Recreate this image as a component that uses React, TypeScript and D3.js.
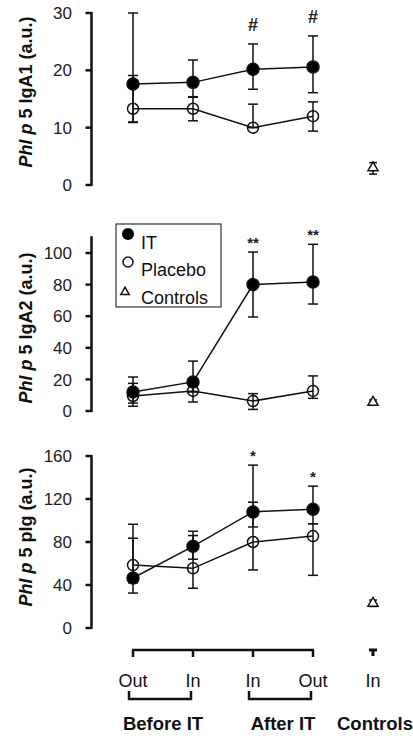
import React, { useEffect, useRef } from "react";
import * as d3 from "d3";

// x slots: four IT/placebo time points + controls
const slots = ["beforeOut", "beforeIn", "afterIn", "afterOut", "controls"];
const slotLabels = ["Out", "In", "In", "Out", "In"];
const groupLabels = ["Before IT", "After IT", "Controls"];
const legendLabels = ["IT", "Placebo", "Controls"];

// Phl p 5 IgA1
const iga1Ticks = [0, 10, 20, 30];
const iga1It = [17.6, 17.9, 20.2, 20.6];
const iga1ItHi = [30, 21.8, 24.6, 26];
const iga1ItLo = [11, 15.3, 16.7, 16.1];
const iga1Pl = [13.3, 13.3, 10, 12];
const iga1PlHi = [19.1, 15.4, 14.1, 14.5];
const iga1PlLo = [10.9, 11.2, 10, 9.4];
const iga1Ctrl = [3.0, 3.9, 1.9]; // mean, hi, lo
const iga1Marks = ["", "", "#", "#"];

// Phl p 5 IgA2
const iga2Ticks = [0, 20, 40, 60, 80, 100];
const iga2It = [12, 18.4, 80, 81.7];
const iga2ItHi = [21.5, 31.6, 100.6, 105.5];
const iga2ItLo = [5, 12, 59.5, 67.7];
const iga2Pl = [9.5, 12.7, 6.3, 12.7];
const iga2PlHi = [17.5, 18, 11, 22.2];
const iga2PlLo = [3, 5.7, 1, 8];
const iga2Ctrl = [5.5, 7, 4];
const iga2Marks = ["", "", "**", "**"];

// Phl p 5 pIg
const pigTicks = [0, 40, 80, 120, 160];
const pigIt = [46.5, 76, 108, 110.5];
const pigItHi = [83.5, 90, 151.5, 132];
const pigItLo = [32.5, 64, 94, 97];
const pigPl = [58.5, 55.5, 80, 85.5];
const pigPlHi = [96.5, 86, 117, 97];
const pigPlLo = [42, 37, 54, 49];
const pigCtrl = [23, 26, 20];
const pigMarks = ["", "", "*", "*"];

const FONT = "'Liberation Sans', Arial, Helvetica, sans-serif";

export default function App() {
  const svgRef = useRef<SVGSVGElement>(null);

  useEffect(() => {
    const svg = d3.select(svgRef.current);
    svg.selectAll("*").remove();

    const x = d3.scalePoint<string>().domain(slots).range([133, 373]);
    const axisX = 91.5;

    const panels = [
      { name: " 5 IgA1 (a.u.)", ticks: iga1Ticks, top: 30, range: [185, 13], labelY: 92,
        it: iga1It, itHi: iga1ItHi, itLo: iga1ItLo, pl: iga1Pl, plHi: iga1PlHi, plLo: iga1PlLo,
        ctrl: iga1Ctrl, marks: iga1Marks },
      { name: " 5 IgA2 (a.u.)", ticks: iga2Ticks, top: 110, range: [411, 253], labelY: 328,
        it: iga2It, itHi: iga2ItHi, itLo: iga2ItLo, pl: iga2Pl, plHi: iga2PlHi, plLo: iga2PlLo,
        ctrl: iga2Ctrl, marks: iga2Marks },
      { name: " 5 pIg (a.u.)", ticks: pigTicks, top: 160, range: [628, 456], labelY: 537,
        it: pigIt, itHi: pigItHi, itLo: pigItLo, pl: pigPl, plHi: pigPlHi, plLo: pigPlLo,
        ctrl: pigCtrl, marks: pigMarks },
    ];

    panels.forEach((p) => {
      const maxTick = p.ticks[p.ticks.length - 1];
      const y = d3.scaleLinear().domain([0, maxTick]).range(p.range);
      const g = svg.append("g");

      // y axis
      g.append("line")
        .attr("x1", axisX).attr("x2", axisX)
        .attr("y1", y(0) + 1).attr("y2", y(p.top) - 1)
        .attr("stroke", "#111").attr("stroke-width", 2.5);
      p.ticks.forEach((t) => {
        g.append("line")
          .attr("x1", axisX - 6).attr("x2", axisX)
          .attr("y1", y(t)).attr("y2", y(t))
          .attr("stroke", "#111").attr("stroke-width", 2.5);
        g.append("text")
          .attr("x", 72).attr("y", y(t))
          .attr("dy", "0.36em")
          .attr("text-anchor", "end")
          .attr("font-size", 17)
          .attr("fill", "#222")
          .text(t);
      });

      // y label
      const lab = g.append("text")
        .attr("transform", `translate(32,${p.labelY}) rotate(-90)`)
        .attr("text-anchor", "middle")
        .attr("font-size", 18)
        .attr("font-weight", "bold")
        .attr("fill", "#111");
      lab.append("tspan").attr("font-style", "italic").text("Phl p");
      lab.append("tspan").text(p.name);

      const series = [
        { v: p.pl, hi: p.plHi, lo: p.plLo, filled: false },
        { v: p.it, hi: p.itHi, lo: p.itLo, filled: true },
      ];

      // error bars
      series.forEach((s) => {
        s.v.forEach((_, i) => {
          const cx = x(slots[i]) as number;
          g.append("line")
            .attr("x1", cx).attr("x2", cx)
            .attr("y1", y(s.hi[i])).attr("y2", y(s.lo[i]))
            .attr("stroke", "#111").attr("stroke-width", 1.5);
          [s.hi[i], s.lo[i]].forEach((c) => {
            g.append("line")
              .attr("x1", cx - 5).attr("x2", cx + 5)
              .attr("y1", y(c)).attr("y2", y(c))
              .attr("stroke", "#111").attr("stroke-width", 1.5);
          });
        });
      });

      // lines
      const line = d3.line<number>()
        .x((_, i) => x(slots[i]) as number)
        .y((d) => y(d));
      series.forEach((s) => {
        g.append("path")
          .attr("d", line(s.v))
          .attr("fill", "none")
          .attr("stroke", "#111")
          .attr("stroke-width", 1.5);
      });

      // markers
      series.forEach((s) => {
        s.v.forEach((d, i) => {
          g.append("circle")
            .attr("cx", x(slots[i]) as number)
            .attr("cy", y(d))
            .attr("r", s.filled ? 6 : 5.5)
            .attr("fill", s.filled ? "#000" : "none")
            .attr("stroke", "#111")
            .attr("stroke-width", 1.5);
        });
      });

      // controls
      const cx = x("controls") as number;
      const [cm, chi, clo] = p.ctrl;
      g.append("line")
        .attr("x1", cx).attr("x2", cx).attr("y1", y(chi)).attr("y2", y(clo))
        .attr("stroke", "#111").attr("stroke-width", 1.5);
      [chi, clo].forEach((c) => {
        g.append("line")
          .attr("x1", cx - 4).attr("x2", cx + 4).attr("y1", y(c)).attr("y2", y(c))
          .attr("stroke", "#111").attr("stroke-width", 1.5);
      });
      g.append("path")
        .attr("transform", `translate(${cx},${y(cm)})`)
        .attr("d", d3.symbol(d3.symbolTriangle, 45)())
        .attr("fill", "#fff")
        .attr("stroke", "#111")
        .attr("stroke-width", 1.5);

      // significance marks
      p.marks.forEach((m, i) => {
        if (!m) return;
        const off = m === "#" ? 13 : 4;
        g.append("text")
          .attr("x", x(slots[i]) as number)
          .attr("y", y(p.itHi[i]) - off)
          .attr("text-anchor", "middle")
          .attr("font-size", m === "#" ? 18 : 15)
          .attr("font-weight", "bold")
          .attr("fill", "#222")
          .text(m);
      });
    });

    // legend
    const lg = svg.append("g");
    lg.append("rect")
      .attr("x", 116).attr("y", 224).attr("width", 105).attr("height", 83)
      .attr("fill", "#fff").attr("stroke", "#333").attr("stroke-width", 1.2);
    const legY = [249, 276, 304];
    legendLabels.forEach((l, i) => {
      if (i === 0) {
        lg.append("circle").attr("cx", 128).attr("cy", legY[i] - 15).attr("r", 6).attr("fill", "#000");
      } else if (i === 1) {
        lg.append("circle").attr("cx", 128).attr("cy", legY[i] - 14).attr("r", 5)
          .attr("fill", "none").attr("stroke", "#111").attr("stroke-width", 1.5);
      } else {
        lg.append("path")
          .attr("transform", `translate(125,${legY[i] - 12})`)
          .attr("d", d3.symbol(d3.symbolTriangle, 30)())
          .attr("fill", "none").attr("stroke", "#111").attr("stroke-width", 1.5);
      }
      lg.append("text")
        .attr("x", 141).attr("y", legY[i])
        .attr("font-size", 18)
        .attr("fill", "#111")
        .text(l);
    });

    // bottom category axis with brackets
    const ax = svg.append("g");
    const sx = slots.slice(0, 4).map((s) => x(s) as number);
    ax.append("line")
      .attr("x1", sx[0] - 1).attr("x2", sx[3] + 1).attr("y1", 650).attr("y2", 650)
      .attr("stroke", "#111").attr("stroke-width", 2.5);
    sx.forEach((px) => {
      ax.append("line").attr("x1", px).attr("x2", px).attr("y1", 650).attr("y2", 657)
        .attr("stroke", "#111").attr("stroke-width", 2.5);
    });
    const ctx = x("controls") as number;
    ax.append("line").attr("x1", ctx - 4).attr("x2", ctx + 4).attr("y1", 650).attr("y2", 650)
      .attr("stroke", "#111").attr("stroke-width", 3);
    ax.append("line").attr("x1", ctx).attr("x2", ctx).attr("y1", 650).attr("y2", 656)
      .attr("stroke", "#111").attr("stroke-width", 3);

    slots.forEach((s, i) => {
      ax.append("text")
        .attr("x", x(s) as number).attr("y", 687)
        .attr("text-anchor", "middle")
        .attr("font-size", 18)
        .attr("fill", "#111")
        .text(slotLabels[i]);
    });

    // group brackets under labels
    [[0, 1], [2, 3]].forEach(([a, b]) => {
      const x1 = sx[a] - 4, x2 = sx[b] - 2;
      ax.append("path")
        .attr("d", `M${x1},691 V699 H${x2} V691`)
        .attr("fill", "none").attr("stroke", "#111").attr("stroke-width", 2.5);
    });
    const groupX = [(sx[0] + sx[1]) / 2, (sx[2] + sx[3]) / 2, ctx + 2];
    groupLabels.forEach((l, i) => {
      ax.append("text")
        .attr("x", groupX[i]).attr("y", 730)
        .attr("text-anchor", "middle")
        .attr("font-size", 18.5)
        .attr("font-weight", "bold")
        .attr("fill", "#111")
        .text(l);
    });
  }, []);

  return (
    <svg
      ref={svgRef}
      width={413}
      height={736}
      style={{ position: "absolute", left: 0, top: 0, background: "#fff", fontFamily: FONT }}
    />
  );
}
